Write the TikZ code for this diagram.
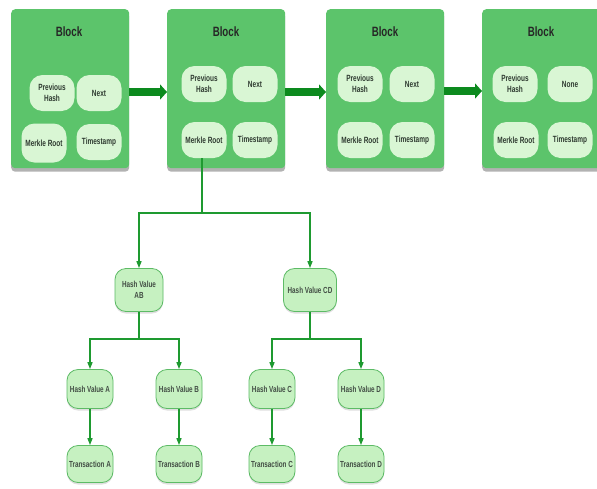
\documentclass[tikz,border=0pt]{standalone}
\usepackage{fontspec}
\setmainfont[FakeStretch=0.72]{Liberation Sans}
\usetikzlibrary{arrows.meta,shadows}
\definecolor{blockgreen}{HTML}{5CC46B}
\definecolor{innergreen}{HTML}{D9F6D4}
\definecolor{treefill}{HTML}{C6F1C1}
\definecolor{treeborder}{HTML}{5DBB66}
\definecolor{linkgreen}{HTML}{1E9A30}
\definecolor{bigarrow}{HTML}{0C8A1E}
\definecolor{txt}{HTML}{2E3A30}
\tikzset{
  blockbox/.style={fill=blockgreen, draw=none, rounded corners=4pt, minimum width=118pt, minimum height=159pt, anchor=north west,
    drop shadow={shadow xshift=0pt, shadow yshift=-3.5pt, opacity=0.5, fill=black!60}},
  blocktitle/.style={font=\bfseries\fontsize{13.5}{15}\selectfont, text=black!85},
  field/.style={fill=innergreen, draw=none, rounded corners=13pt, minimum width=45pt, minimum height=36pt, inner sep=1pt,
    align=center, font=\bfseries\fontsize{9}{10.5}\selectfont, text=txt},
  treenode/.style={fill=treefill, draw=treeborder, line width=0.8pt, rounded corners=11pt, minimum width=46pt, minimum height=39pt, inner sep=1pt,
    align=center, font=\bfseries\fontsize{8.8}{11}\selectfont, text=txt!90,
    drop shadow={shadow xshift=0pt, shadow yshift=-2pt, opacity=0.25, fill=black!50}},
  link/.style={draw=linkgreen, line width=1.4pt, -{Triangle[length=7pt,width=5pt]}},
  trunk/.style={draw=linkgreen, line width=1.4pt},
  chain/.style={draw=bigarrow, line width=8pt, -{Triangle[length=7pt,width=15pt]}}
}
\begin{document}
\begin{tikzpicture}[x=1pt,y=-1pt]
\useasboundingbox (0,0) rectangle (597,488);
\clip (0,0) rectangle (597,488);
\fill[white] (0,0) rectangle (597,488);

% blocks
\node[blockbox] (b1) at (11,9) {};
\node[blockbox] (b2) at (167,9) {};
\node[blockbox] (b3) at (326,9) {};
\node[blockbox, minimum width=130pt] (b4) at (482,9) {};

\node[blocktitle] (t1) at (69,32) {Block};
\node[blocktitle] (t2) at (226,32) {Block};
\node[blocktitle] (t3) at (385,32) {Block};
\node[blocktitle] (t4) at (541,32) {Block};

% block 1 fields
\node[field] (ph1) at (52,93) {Previous\\Hash};
\node[field] (nx1) at (99,93) {Next};
\node[field, minimum height=39pt] (mr1) at (44,143) {Merkle Root};
\node[field] (ts1) at (99,142) {Timestamp};
% block 2 fields
\node[field] (ph2) at (204,84) {Previous\\Hash};
\node[field] (nx2) at (255,84) {Next};
\node[field] (mr2) at (204,140) {Merkle Root};
\node[field] (ts2) at (255,140) {Timestamp};
% block 3 fields
\node[field] (ph3) at (360,84) {Previous\\Hash};
\node[field] (nx3) at (412,84) {Next};
\node[field] (mr3) at (360,140) {Merkle Root};
\node[field] (ts3) at (412,140) {Timestamp};
% block 4 fields
\node[field] (ph4) at (515,84) {Previous\\Hash};
\node[field] (nx4) at (570,84) {None};
\node[field] (mr4) at (516,140) {Merkle Root};
\node[field] (ts4) at (570,140) {Timestamp};

% chain arrows
\draw[chain] (b1.east |- 0,92) -- (b2.west |- 0,92);
\draw[chain] (b2.east |- 0,92) -- (b3.west |- 0,92);
\draw[chain] (b3.east |- 0,91) -- (b4.west |- 0,91);

% merkle tree nodes
\node[treenode, minimum width=48pt, minimum height=43pt] (hab) at (139,290) {Hash Value\\AB};
\node[treenode, minimum width=53pt, minimum height=43pt] (hcd) at (310,290) {Hash Value CD};

\node[treenode] (ha) at (90,389) {Hash Value A};
\node[treenode] (hb) at (179,389) {Hash Value B};
\node[treenode] (hc) at (272,389) {Hash Value C};
\node[treenode] (hd) at (361,389) {Hash Value D};

\node[treenode, minimum height=37pt] (ta) at (90,464) {Transaction A};
\node[treenode, minimum height=37pt] (tb) at (179,464) {Transaction B};
\node[treenode, minimum height=37pt] (tc) at (272,464) {Transaction C};
\node[treenode, minimum height=37pt] (td) at (361,464) {Transaction D};

% connectors
\coordinate (j1) at ([xshift=-2pt]mr2.south |- 0,213);
\coordinate (j2) at (hab.south |- 0,339);
\coordinate (j3) at (hcd.south |- 0,339);

\draw[trunk] ([xshift=-2pt]mr2.south) -- (j1);
\draw[link] (j1) -| (hab.north);
\draw[link] (j1) -| (hcd.north);

\draw[trunk] (hab.south) -- (j2);
\draw[link] (j2) -| (ha.north);
\draw[link] (j2) -| (hb.north);

\draw[trunk] (hcd.south) -- (j3);
\draw[link] (j3) -| (hc.north);
\draw[link] (j3) -| (hd.north);

\draw[link] (ha) -- (ta);
\draw[link] (hb) -- (tb);
\draw[link] (hc) -- (tc);
\draw[link] (hd) -- (td);
\end{tikzpicture}
\end{document}
